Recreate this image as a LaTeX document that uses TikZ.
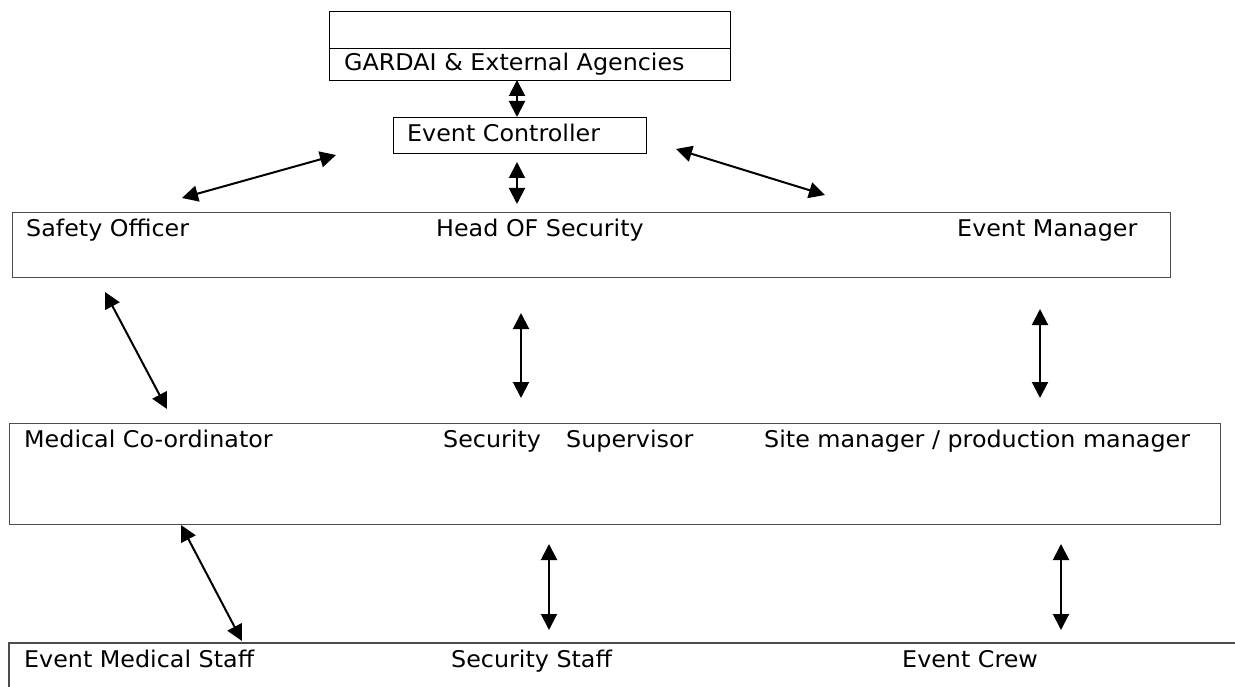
\documentclass[tikz,border=0pt]{standalone}
\usepackage{fontspec}
\setmainfont{DejaVu Sans}[FakeStretch=1.035]
\usetikzlibrary{arrows.meta}
\begin{document}
\begin{tikzpicture}[x=1pt,y=-1pt,
  frame/.style={draw=black, line width=1pt, inner sep=0pt, anchor=north west},
  rowframe/.style={draw=black!70, line width=1.2pt, inner sep=0pt, anchor=north west},
  label/.style={anchor=base west, inner sep=0pt, font=\fontsize{23}{28}\selectfont},
  link/.style={line width=2pt, {Triangle[length=16pt,width=16pt]}-{Triangle[length=16pt,width=16pt]}}]
\useasboundingbox (0,0) rectangle (1235,687);

% boxes
\node[frame, minimum width=401pt, minimum height=37pt] (topbox) at (329,11) {};
\node[frame, minimum width=401pt, minimum height=32pt] (gardai) at (329,48) {};
\node[frame, minimum width=253pt, minimum height=36pt] (ctrl) at (393,117) {};
\node[rowframe, minimum width=1158pt, minimum height=65pt] (rowone) at (12,212) {};
\node[rowframe, minimum width=1211pt, minimum height=101pt] (rowtwo) at (9,423) {};
\draw[draw=black!70, line width=1.2pt] (9,687) -- (9,643) -- (1235,643);

% labels
\node[label] (tgardai) at (344,71) {GARDAI \& External Agencies};
\node[label] (tctrl) at (407,142) {Event Controller};
\node[label] (tsafety) at (26,237) {Safety Officer};
\node[label] (thead) at (436,237) {Head OF Security};
\node[label] (tevman) at (957,237) {Event Manager};
\node[label] (tmed) at (24,447) {Medical Co-ordinator};
\node[label] (tsec) at (443,447) {Security};
\node[label] (tsup) at (566,447) {Supervisor};
\node[label] (tsite) at (764,447) {Site manager / production manager};
\node[label] (tmedstaff) at (24,667) {Event Medical Staff};
\node[label] (tsecstaff) at (451,667) {Security Staff};
\node[label] (tcrew) at (902,667) {Event Crew};

% connector end points
\coordinate (a1) at (517,80);   \coordinate (a2) at (517,117);
\coordinate (b1) at (517,162);  \coordinate (b2) at (517,204);
\coordinate (c1) at (336,155);  \coordinate (c2) at (182,198);
\coordinate (d1) at (676,149);  \coordinate (d2) at (825,195);
\coordinate (e1) at (105,292);  \coordinate (e2) at (167,409);
\coordinate (f1) at (521,313);  \coordinate (f2) at (521,398);
\coordinate (g1) at (1040,309); \coordinate (g2) at (1040,398);
\coordinate (h1) at (181,525);  \coordinate (h2) at (242,641);
\coordinate (i1) at (549,544);  \coordinate (i2) at (549,630);
\coordinate (j1) at (1061,544); \coordinate (j2) at (1061,630);

% connectors
\draw[link] (a1) -- (a2);
\draw[link] (b1) -- (b2);
\draw[link] (c1) -- (c2);
\draw[link] (d1) -- (d2);
\draw[link] (e1) -- (e2);
\draw[link] (f1) -- (f2);
\draw[link] (g1) -- (g2);
\draw[link] (h1) -- (h2);
\draw[link] (i1) -- (i2);
\draw[link] (j1) -- (j2);
\end{tikzpicture}
\end{document}
